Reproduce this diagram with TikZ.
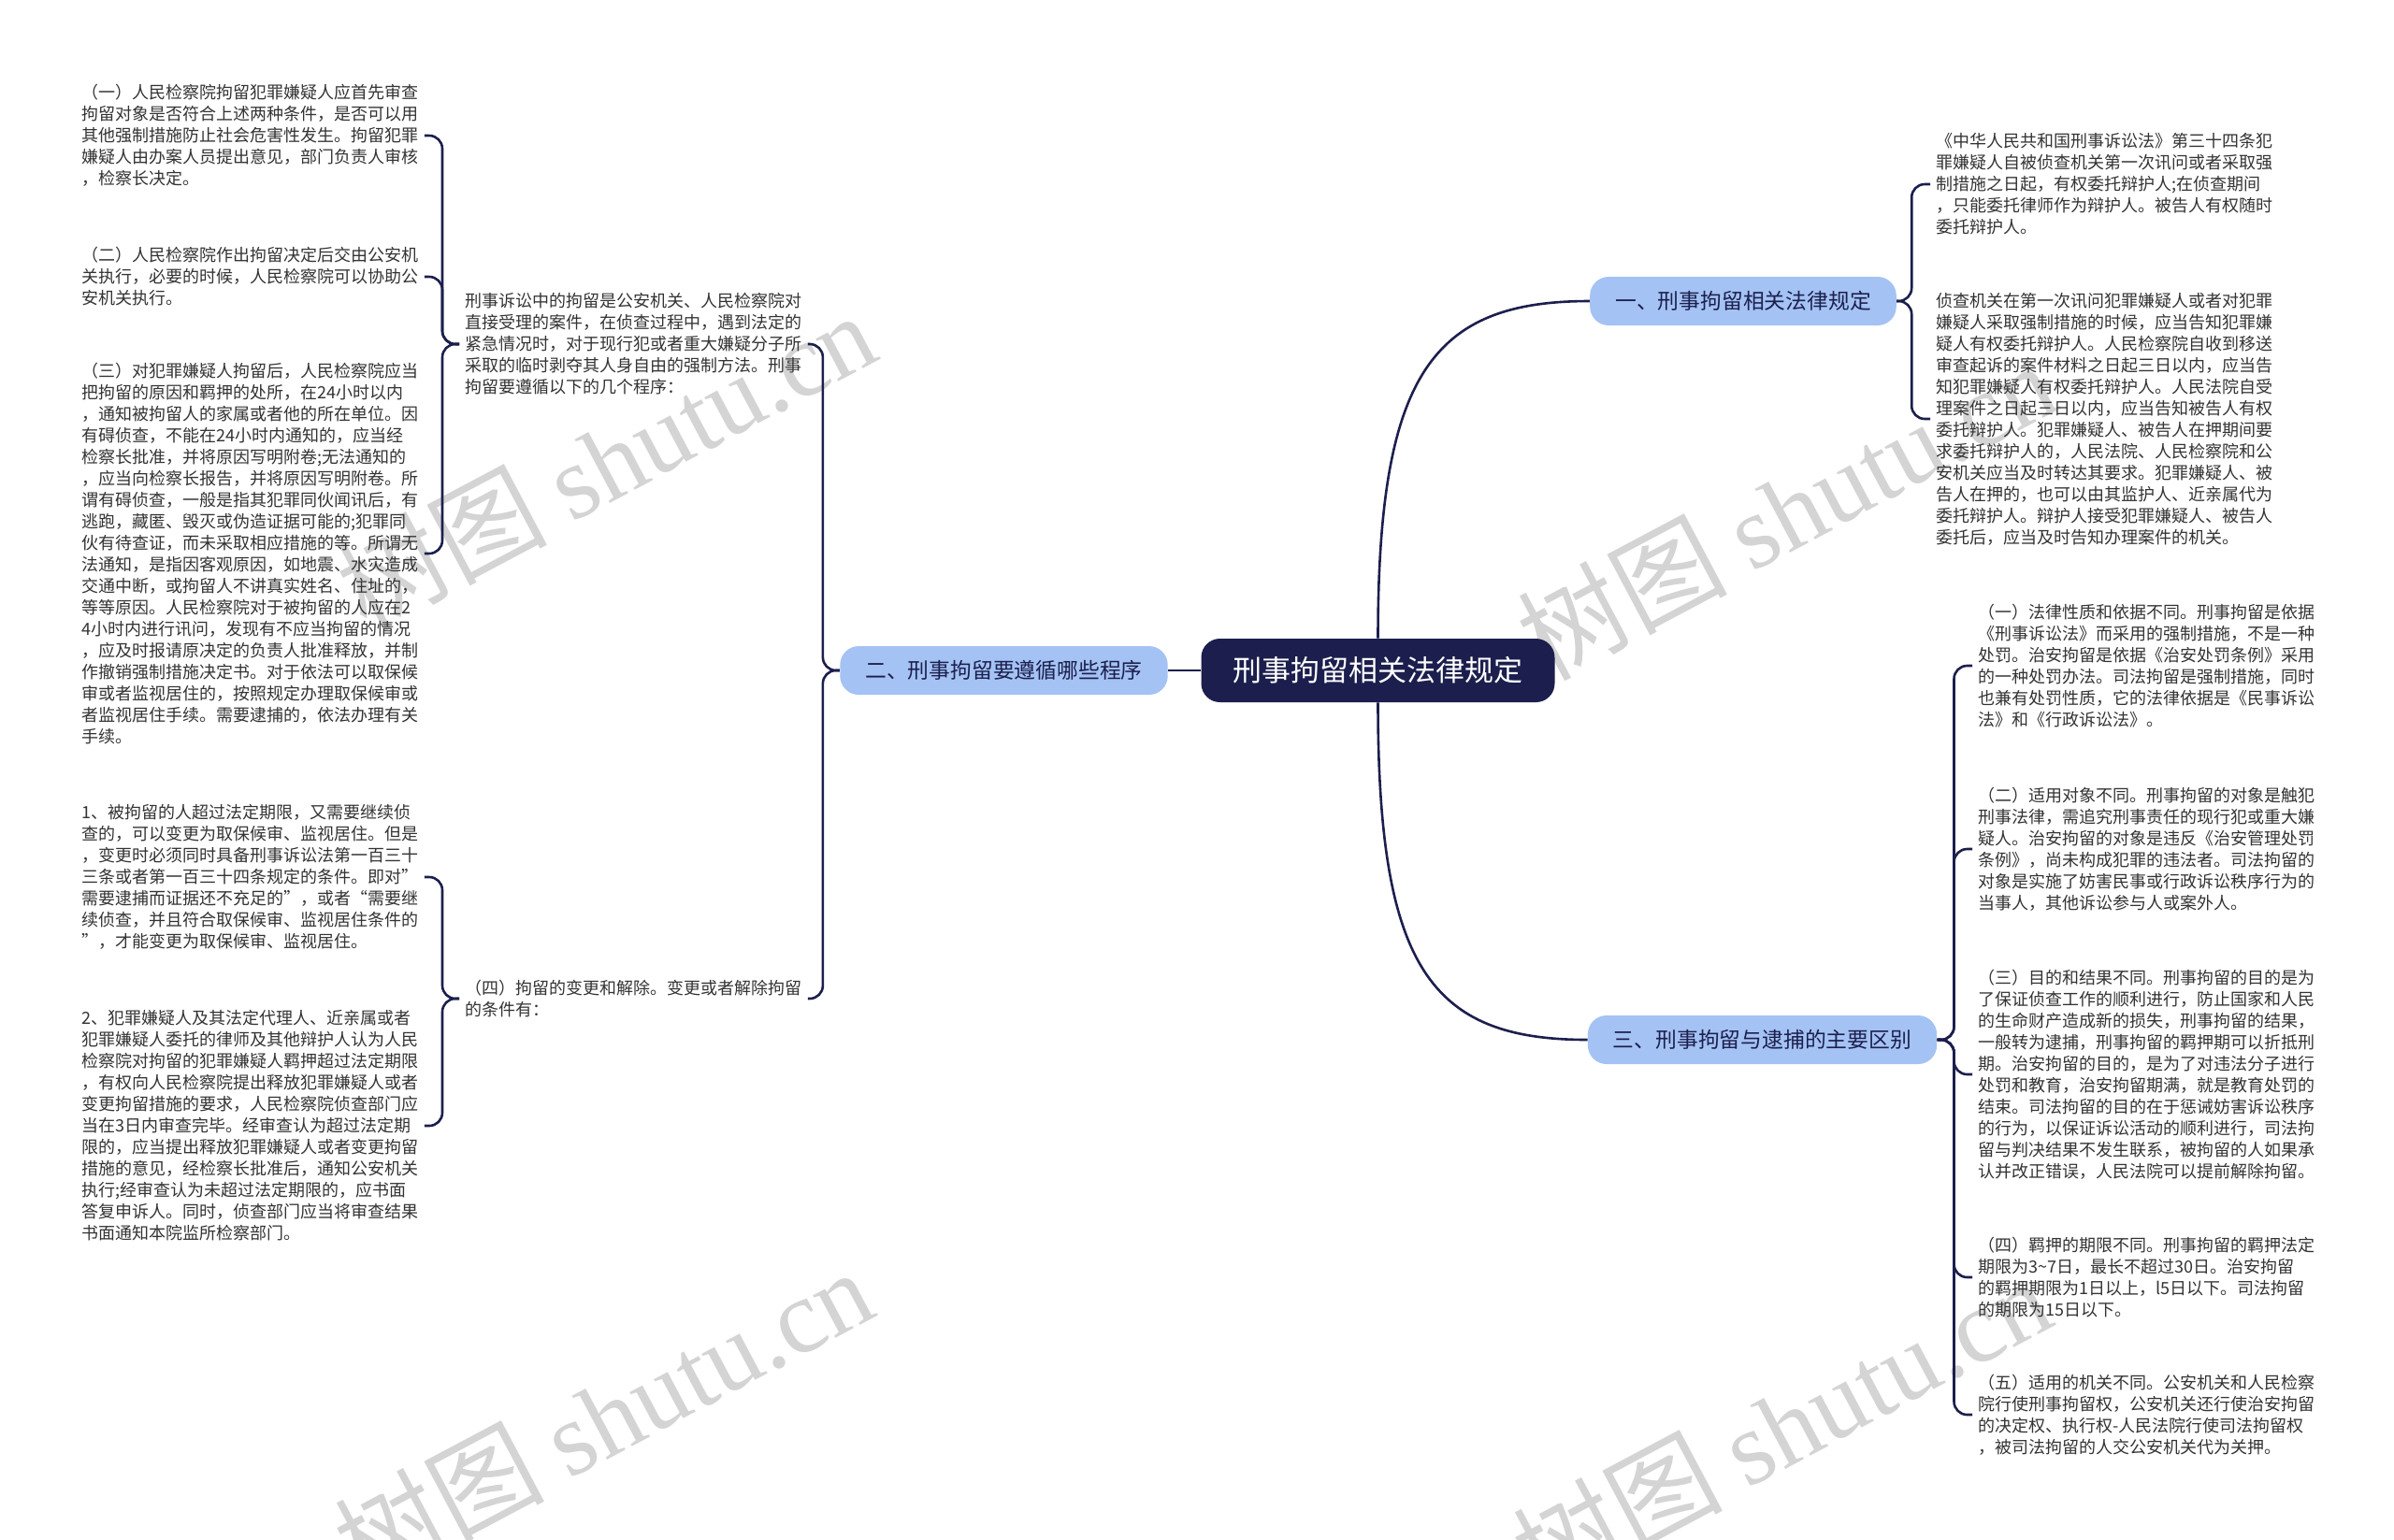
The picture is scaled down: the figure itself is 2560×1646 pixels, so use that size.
\documentclass[tikz,border=0pt]{standalone}
\usepackage{fontspec}
\setmainfont{Noto Sans CJK SC}
\newfontfamily\wmserif{Liberation Serif}
\usetikzlibrary{positioning}
\definecolor{MapNavy}{HTML}{1C1F4D}
\definecolor{MapBlue}{HTML}{A4C3F4}
\definecolor{MapText}{HTML}{333333}
\definecolor{MapMark}{HTML}{D4D4D4}

\begin{document}
\begin{tikzpicture}[x=0.5pt,y=-0.5pt,root/.style={fill=MapNavy,text=white,rounded corners=10pt,font=\fontsize{15.5}{18}\selectfont,inner xsep=17pt,minimum height=34pt},branch/.style={fill=MapBlue,text=MapNavy,rounded corners=10pt,font=\fontsize{11.4}{13}\selectfont,inner xsep=13.5pt,minimum height=26pt},leaf/.style={anchor=west,align=left,inner sep=3pt,text=MapText,font=\fontsize{9}{11.5}\selectfont},link/.style={draw=MapNavy,line width=1.3pt,rounded corners=7pt},wmark/.style={text=MapMark,rotate=28,font=\fontsize{56}{56}\selectfont}]
  \fill[white] (0,0) rectangle (2560,1646);
  \useasboundingbox (0,0) rectangle (2560,1646);
  % watermarks
  \node[wmark] (wm1) at (648,492) {树图 {\wmserif shutu.cn}};
  \node[wmark] (wm2) at (1910,545) {树图 {\wmserif shutu.cn}};
  \node[wmark] (wm3) at (645,1515) {树图 {\wmserif shutu.cn}};
  \node[wmark] (wm4) at (1905,1525) {树图 {\wmserif shutu.cn}};
  % main topics
  \node[root] (root) at (1473.5,717) {刑事拘留相关法律规定};
  \node[branch] (law) at (1864,322) {一、刑事拘留相关法律规定};
  \node[branch] (proc) at (1073.5,717) {二、刑事拘留要遵循哪些程序};
  \node[branch] (diff) at (1884.5,1112) {三、刑事拘留与逮捕的主要区别};
  % procedure
  \node[leaf] (intro) at (491,368) {刑事诉讼中的拘留是公安机关、人民检察院对\\直接受理的案件，在侦查过程中，遇到法定的\\紧急情况时，对于现行犯或者重大嫌疑分子所\\采取的临时剥夺其人身自由的强制方法。刑事\\拘留要遵循以下的几个程序：};
  \node[leaf] (change) at (491,1068) {（四）拘留的变更和解除。变更或者解除拘留\\的条件有：};
  \node[leaf] (step1) at (81,145) {（一）人民检察院拘留犯罪嫌疑人应首先审查\\拘留对象是否符合上述两种条件，是否可以用\\其他强制措施防止社会危害性发生。拘留犯罪\\嫌疑人由办案人员提出意见，部门负责人审核\\，检察长决定。};
  \node[leaf] (step2) at (81,296) {（二）人民检察院作出拘留决定后交由公安机\\关执行，必要的时候，人民检察院可以协助公\\安机关执行。};
  \node[leaf] (step3) at (81,592) {（三）对犯罪嫌疑人拘留后，人民检察院应当\\把拘留的原因和羁押的处所，在24小时以内\\，通知被拘留人的家属或者他的所在单位。因\\有碍侦查，不能在24小时内通知的，应当经\\检察长批准，并将原因写明附卷;无法通知的\\，应当向检察长报告，并将原因写明附卷。所\\谓有碍侦查，一般是指其犯罪同伙闻讯后，有\\逃跑，藏匿、毁灭或伪造证据可能的;犯罪同\\伙有待查证，而未采取相应措施的等。所谓无\\法通知，是指因客观原因，如地震、水灾造成\\交通中断，或拘留人不讲真实姓名、住址的，\\等等原因。人民检察院对于被拘留的人应在2\\4小时内进行讯问，发现有不应当拘留的情况\\，应及时报请原决定的负责人批准释放，并制\\作撤销强制措施决定书。对于依法可以取保候\\审或者监视居住的，按照规定办理取保候审或\\者监视居住手续。需要逮捕的，依法办理有关\\手续。};
  \node[leaf] (cond1) at (81,938) {1、被拘留的人超过法定期限，又需要继续侦\\查的，可以变更为取保候审、监视居住。但是\\，变更时必须同时具备刑事诉讼法第一百三十\\三条或者第一百三十四条规定的条件。即对”\\需要逮捕而证据还不充足的”，或者“需要继\\续侦查，并且符合取保候审、监视居住条件的\\”，才能变更为取保候审、监视居住。};
  \node[leaf] (cond2) at (81,1204) {2、犯罪嫌疑人及其法定代理人、近亲属或者\\犯罪嫌疑人委托的律师及其他辩护人认为人民\\检察院对拘留的犯罪嫌疑人羁押超过法定期限\\，有权向人民检察院提出释放犯罪嫌疑人或者\\变更拘留措施的要求，人民检察院侦查部门应\\当在3日内审查完毕。经审查认为超过法定期\\限的，应当提出释放犯罪嫌疑人或者变更拘留\\措施的意见，经检察长批准后，通知公安机关\\执行;经审查认为未超过法定期限的，应书面\\答复申诉人。同时，侦查部门应当将审查结果\\书面通知本院监所检察部门。};
  % legal rules
  \node[leaf] (art34) at (2064,197) {《中华人民共和国刑事诉讼法》第三十四条犯\\罪嫌疑人自被侦查机关第一次讯问或者采取强\\制措施之日起，有权委托辩护人;在侦查期间\\，只能委托律师作为辩护人。被告人有权随时\\委托辩护人。};
  \node[leaf] (notice) at (2064,448) {侦查机关在第一次讯问犯罪嫌疑人或者对犯罪\\嫌疑人采取强制措施的时候，应当告知犯罪嫌\\疑人有权委托辩护人。人民检察院自收到移送\\审查起诉的案件材料之日起三日以内，应当告\\知犯罪嫌疑人有权委托辩护人。人民法院自受\\理案件之日起三日以内，应当告知被告人有权\\委托辩护人。犯罪嫌疑人、被告人在押期间要\\求委托辩护人的，人民法院、人民检察院和公\\安机关应当及时转达其要求。犯罪嫌疑人、被\\告人在押的，也可以由其监护人、近亲属代为\\委托辩护人。辩护人接受犯罪嫌疑人、被告人\\委托后，应当及时告知办理案件的机关。};
  % differences
  \node[leaf] (diff1) at (2109,712) {（一）法律性质和依据不同。刑事拘留是依据\\《刑事诉讼法》而采用的强制措施，不是一种\\处罚。治安拘留是依据《治安处罚条例》采用\\的一种处罚办法。司法拘留是强制措施，同时\\也兼有处罚性质，它的法律依据是《民事诉讼\\法》和《行政诉讼法》。};
  \node[leaf] (diff2) at (2109,908) {（二）适用对象不同。刑事拘留的对象是触犯\\刑事法律，需追究刑事责任的现行犯或重大嫌\\疑人。治安拘留的对象是违反《治安管理处罚\\条例》，尚未构成犯罪的违法者。司法拘留的\\对象是实施了妨害民事或行政诉讼秩序行为的\\当事人，其他诉讼参与人或案外人。};
  \node[leaf] (diff3) at (2109,1149) {（三）目的和结果不同。刑事拘留的目的是为\\了保证侦查工作的顺利进行，防止国家和人民\\的生命财产造成新的损失，刑事拘留的结果，\\一般转为逮捕，刑事拘留的羁押期可以折抵刑\\期。治安拘留的目的，是为了对违法分子进行\\处罚和教育，治安拘留期满，就是教育处罚的\\结束。司法拘留的目的在于惩诫妨害诉讼秩序\\的行为，以保证诉讼活动的顺利进行，司法拘\\留与判决结果不发生联系，被拘留的人如果承\\认并改正错误，人民法院可以提前解除拘留。};
  \node[leaf] (diff4) at (2109,1366) {（四）羁押的期限不同。刑事拘留的羁押法定\\期限为3\textasciitilde 7日，最长不超过30日。治安拘留\\的羁押期限为1日以上，l5日以下。司法拘留\\的期限为15日以下。};
  \node[leaf] (diff5) at (2109,1513) {（五）适用的机关不同。公安机关和人民检察\\院行使刑事拘留权，公安机关还行使治安拘留\\的决定权、执行权-人民法院行使司法拘留权\\，被司法拘留的人交公安机关代为关押。};
  % connectors
  \draw[link] (root.north) .. controls +(0,-283) and +(-168,0) .. (law.west);
  \draw[link] (root.south) .. controls +(0,283) and +(-168,0) .. (diff.west);
  \draw[link] (root.west) -- (proc.east);
  \foreach \leafname in {intro,change}
    \draw[link] (proc.west) -- ++(-18,0) |- (\leafname.east);
  \foreach \leafname in {step1,step2,step3}
    \draw[link] (intro.west) -- ++(-18,0) |- (\leafname.east);
  \foreach \leafname in {cond1,cond2}
    \draw[link] (change.west) -- ++(-18,0) |- (\leafname.east);
  \foreach \leafname in {art34,notice}
    \draw[link] (law.east) -- ++(16,0) |- (\leafname.west);
  \foreach \leafname in {diff1,diff2,diff3,diff4,diff5}
    \draw[link] (diff.east) -- ++(18,0) |- (\leafname.west);
\end{tikzpicture}
\end{document}
